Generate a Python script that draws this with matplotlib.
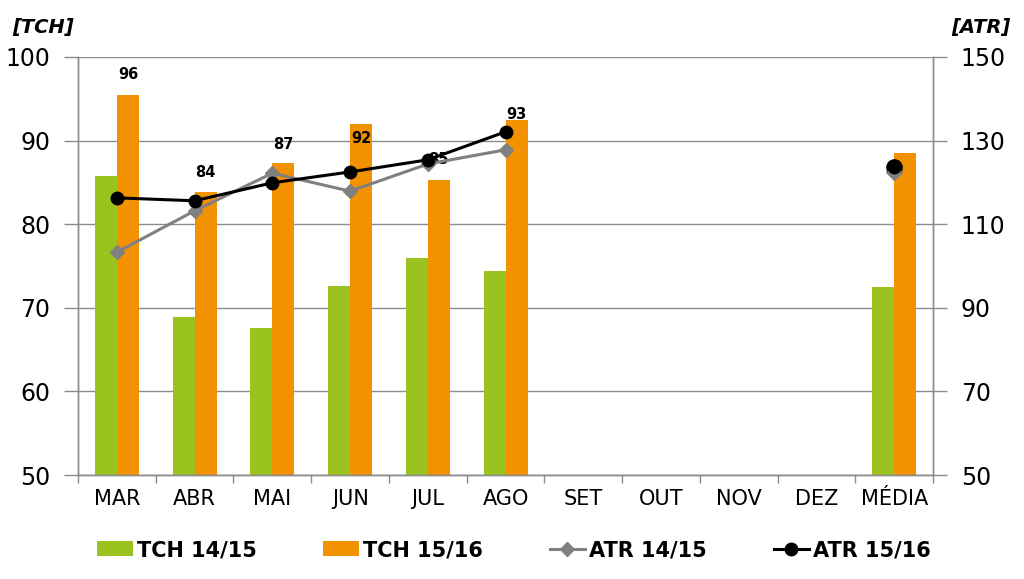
import numpy as np
import matplotlib
matplotlib.use('Agg')
import matplotlib.pyplot as plt

months = ['MAR', 'ABR', 'MAI', 'JUN', 'JUL', 'AGO', 'SET', 'OUT', 'NOV', 'DEZ', 'MÉDIA']
nan = np.nan
tch_1415 = [85.8, 68.9, 67.6, 72.6, 76.0, 74.4, nan, nan, nan, nan, 72.5]
tch_1516 = [95.5, 83.9, 87.3, 92.0, 85.3, 92.5, nan, nan, nan, nan, 88.5]
atr_1415 = [103.3, 113.2, 122.2, 117.9, 124.4, 127.8, nan, nan, nan, nan, 122.5]
atr_1516 = [116.3, 115.6, 119.9, 122.5, 125.4, 132.1, nan, nan, nan, nan, 123.7]
tch_labels = ['96', '84', '87', '92', '85', '93']
# label offsets above bar top, in points
label_dy = [9, 8, 8, -16, 9, -2]

green = '#9BC31F'
orange = '#F39200'
gray = '#808080'
grid_col = '#8C8C8C'

plt.rcParams['font.family'] = ['DejaVu Sans']

fig = plt.figure(figsize=(10.24, 5.79), dpi=100)
ax = fig.add_axes([0.0762, 0.1796, 0.835, 0.722])
ax2 = ax.twinx()

x = np.arange(len(months))
w = 0.283
ax.bar(x - w / 2, tch_1415, w, color=green, label='TCH 14/15', zorder=2)
ax.bar(x + w / 2, tch_1516, w, color=orange, label='TCH 15/16', zorder=2)

for i, lab in enumerate(tch_labels):
    ax.annotate(lab, (x[i] + w / 2, tch_1516[i]), xytext=(0, label_dy[i]),
                textcoords='offset points', ha='center', va='bottom',
                fontsize=10.5, fontweight='bold', color='black', zorder=5)

ax2.plot(x, atr_1415, color=gray, marker='D', markersize=8, linewidth=2.2,
         label='ATR 14/15', zorder=3)
ax2.plot(x, atr_1516, color='black', marker='o', markersize=11, linewidth=2.2,
         label='ATR 15/16', zorder=4)
# MÉDIA points (isolated)
ax2.plot(x[-1:], atr_1415[-1:], color=gray, marker='D', markersize=8, linestyle='none')
ax2.plot(x[-1:], atr_1516[-1:], color='black', marker='o', markersize=11, linestyle='none')

ax.set_xlim(-0.5, len(months) - 0.5)
ax.set_ylim(50, 100)
ax.set_yticks(range(50, 101, 10))
ax2.set_ylim(50, 150)
ax2.set_yticks(range(50, 151, 20))

ax.yaxis.grid(True, color=grid_col, linewidth=1.0, zorder=0)
ax.set_axisbelow(True)

ax.set_xticks(x)
ax.set_xticklabels(months, fontsize=15)
ax.set_xticks(np.arange(-0.5, len(months), 1), minor=True)
ax.tick_params(axis='x', which='major', length=0, pad=10)
ax.tick_params(axis='x', which='minor', length=6, color=grid_col, width=1)
ax.tick_params(axis='y', labelsize=17, length=10, color=grid_col, width=1, pad=10)
ax2.tick_params(axis='y', labelsize=17, length=10, color=grid_col, width=1, pad=10)

for a in (ax, ax2):
    a.spines['top'].set_visible(False)
    for s in ('left', 'right', 'bottom'):
        a.spines[s].set_color(grid_col)
        a.spines[s].set_linewidth(1)

fig.text(0.012, 0.953, '[TCH]', fontsize=14, fontweight='bold', fontstyle='italic', va='center')
fig.text(0.987, 0.953, '[ATR]', fontsize=14, fontweight='bold', fontstyle='italic', va='center', ha='right')

h1, l1 = ax.get_legend_handles_labels()
h2, l2 = ax2.get_legend_handles_labels()
h2[0].set_markersize(7)
h2[1].set_markersize(9)
fig.legend(h1 + h2[:2], l1 + l2[:2], loc='center', bbox_to_anchor=(0.502, 0.05),
           ncol=4, frameon=False, prop={'weight': 'bold', 'size': 15},
           handlelength=1.7, handletextpad=0.2, columnspacing=3.2)

fig.savefig('out.png', dpi=100)
